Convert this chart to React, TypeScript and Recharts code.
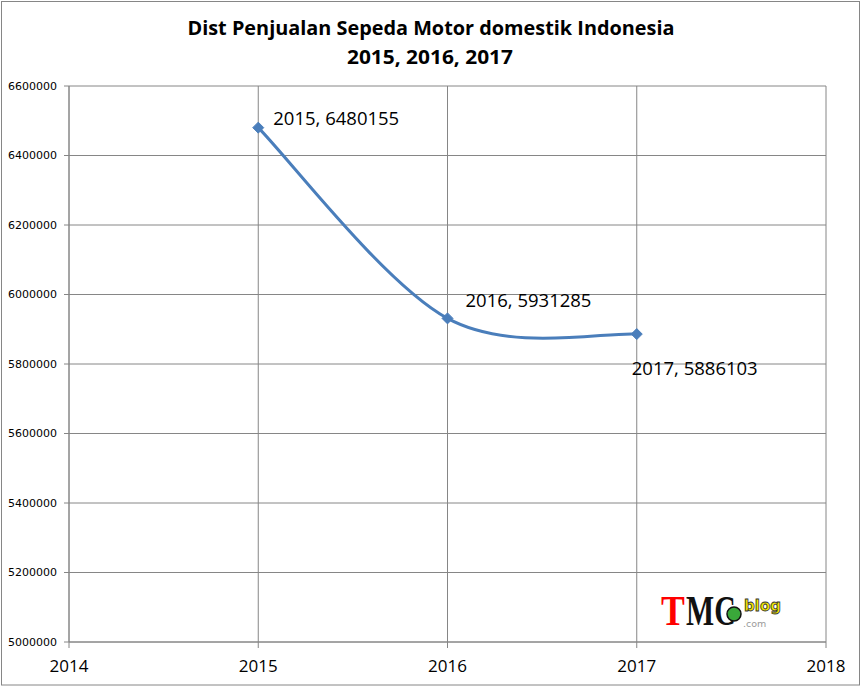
import React from "react";
import { LineChart, Line, XAxis, YAxis, CartesianGrid, LabelList } from "recharts";

const years = [2015, 2016, 2017];
const sales = [6480155, 5931285, 5886103];
const xTicks = [2014, 2015, 2016, 2017, 2018];
const yTicks = [5000000, 5200000, 5400000, 5600000, 5800000, 6000000, 6200000, 6400000, 6600000];
const titleLines = ["Dist Penjualan Sepeda Motor domestik Indonesia", "2015, 2016, 2017"];
const labelOffsets = [
  { dx: 15, dy: -10 },
  { dx: 18, dy: -19 },
  { dx: -5, dy: 33 },
];

const data = years.map((y, i) => ({ year: y, value: sales[i] }));

const GRID = "#868686";
const BLUE = "#4A7EBB";

// Excel-style smoothed line: cubic Bezier with control points at 1/6 of neighbour chord
const excelSmooth = (context: any) => {
  let pts: number[][] = [];
  return {
    areaStart() {},
    areaEnd() {},
    lineStart() {
      pts = [];
    },
    point(x: number, y: number) {
      pts.push([+x, +y]);
    },
    lineEnd() {
      const n = pts.length;
      if (!n) return;
      context.moveTo(pts[0][0], pts[0][1]);
      for (let i = 0; i < n - 1; i++) {
        const p0 = pts[Math.max(i - 1, 0)];
        const p1 = pts[i];
        const p2 = pts[i + 1];
        const p3 = pts[Math.min(i + 2, n - 1)];
        const c1x = p1[0] + (p2[0] - p0[0]) / 6;
        const c1y = p1[1] + (p2[1] - p0[1]) / 6;
        const c2x = p2[0] - (p3[0] - p1[0]) / 6;
        const c2y = p2[1] - (p3[1] - p1[1]) / 6;
        context.bezierCurveTo(c1x, c1y, c2x, c2y, p2[0], p2[1]);
      }
    },
  };
};

const Diamond = (props: any) => {
  const { cx, cy, index } = props;
  if (cx == null || cy == null) return <g key={`d-${index}`} />;
  const r = 5.5;
  return (
    <polygon
      key={`d-${index}`}
      points={`${cx},${cy - r} ${cx + r},${cy} ${cx},${cy + r} ${cx - r},${cy}`}
      fill={BLUE}
      stroke={BLUE}
      strokeWidth={1}
    />
  );
};

const DataLabel = (props: any) => {
  const { x, y, index } = props;
  if (x == null || y == null) return null;
  const o = labelOffsets[index] || { dx: 0, dy: 0 };
  return (
    <text
      x={x + o.dx}
      y={y + o.dy}
      dominantBaseline="central"
      fontFamily="'Open Sans', sans-serif"
      fontSize={18.5}
      fill="#000"
    >
      {`${years[index]}, ${sales[index]}`}
    </text>
  );
};

export default function App() {
  return (
    <div style={{ position: "absolute", left: 0, top: 0, width: 862, height: 687, background: "#fff" }}>
      <LineChart
        width={862}
        height={687}
        data={data}
        margin={{ top: 86, right: 36, bottom: 2, left: 2 }}
      >
        <CartesianGrid stroke={GRID} strokeWidth={1} />
        <XAxis
          dataKey="year"
          type="number"
          domain={[2014, 2018]}
          ticks={xTicks}
          height={43}
          tickSize={6}
          tickMargin={12}
          axisLine={{ stroke: GRID }}
          tickLine={{ stroke: GRID }}
          tick={{ fill: "#000", fontSize: 17, fontFamily: "'Open Sans', sans-serif" }}
          interval={0}
        />
        <YAxis
          type="number"
          domain={[5000000, 6600000]}
          ticks={yTicks}
          width={67}
          tickSize={5}
          tickMargin={7}
          axisLine={{ stroke: GRID }}
          tickLine={{ stroke: GRID }}
          tick={{ fill: "#000", fontSize: 11, fontFamily: "'DejaVu Sans', sans-serif" }}
          interval={0}
          allowDataOverflow
        />
        <Line
          type={excelSmooth as any}
          dataKey="value"
          stroke={BLUE}
          strokeWidth={3}
          dot={Diamond}
          activeDot={false}
          isAnimationActive={false}
        >
          <LabelList dataKey="value" content={DataLabel} />
        </Line>
      </LineChart>
      <svg
        width={862}
        height={687}
        style={{ position: "absolute", left: 0, top: 0, pointerEvents: "none" }}
      >
        <rect x={1.5} y={1.5} width={858} height={683.5} fill="none" stroke={GRID} strokeWidth={1} />
        <text
          x={431}
          y={27}
          textAnchor="middle"
          dominantBaseline="central"
          fontFamily="'Open Sans', sans-serif"
          fontWeight="bold"
          fontSize={20}
          textLength={487}
          lengthAdjust="spacingAndGlyphs"
          fill="#000"
        >
          {titleLines[0]}
        </text>
        <text
          x={430}
          y={56}
          textAnchor="middle"
          dominantBaseline="central"
          fontFamily="'Open Sans', sans-serif"
          fontWeight="bold"
          fontSize={20}
          textLength={166}
          lengthAdjust="spacingAndGlyphs"
          fill="#000"
        >
          {titleLines[1]}
        </text>
        <g>
          <g transform="translate(661,625) scale(0.85,1)">
            <text x={0} y={0} fontFamily="'Liberation Serif', serif" fontWeight="bold" fontSize={42} fill="#ff0000">
              T
            </text>
          </g>
          <g transform="translate(686,625) scale(0.71,1)">
            <text x={0} y={0} fontFamily="'Liberation Serif', serif" fontWeight="bold" fontSize={42} fill="#111">
              MC
            </text>
          </g>
          <circle cx={734} cy={614} r={7} fill="#3aa83a" stroke="#111" strokeWidth={1.5} />
          <text
            x={744}
            y={611}
            fontFamily="'DejaVu Sans', sans-serif"
            fontWeight="bold"
            fontSize={15}
            fill="#f2e600"
            stroke="#333"
            strokeWidth={0.8}
          >
            blog
          </text>
          <text
            x={743}
            y={627}
            fontFamily="'DejaVu Sans', sans-serif"
            fontSize={9.5}
            fill="#9a9a9a"
          >
            .com
          </text>
        </g>
      </svg>
    </div>
  );
}
